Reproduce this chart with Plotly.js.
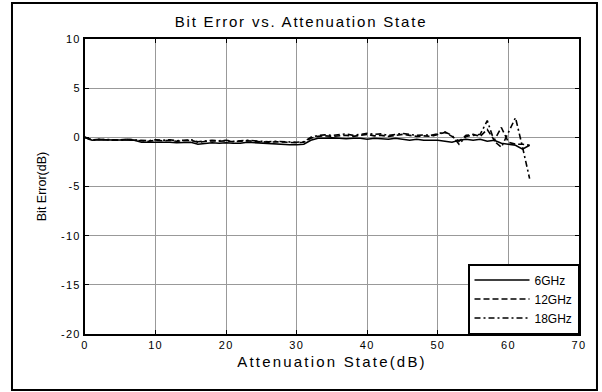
<!DOCTYPE html>
<html>
<head>
<meta charset="utf-8">
<script src="https://cdn.plot.ly/plotly-3.0.1.min.js"></script>
<style>
html,body{margin:0;padding:0;background:#fff;}
#chart{width:602px;height:392px;}
#chart .gtitle{letter-spacing:1.8px;}
#chart .xtitle{letter-spacing:2.2px;}
#chart .xtick text, #chart .ytick text{letter-spacing:1.3px;}
</style>
</head>
<body>
<div id="chart"></div>
<script>
var attenState = [0,1,2,3,4,5,6,7,8,9,10,11,12,13,14,15,16,17,18,19,20,21,22,23,24,25,26,27,28,29,30,31,32,33,34,35,36,37,38,39,40,41,42,43,44,45,46,47,48,49,50,51,52,53,54,55,56,57,58,59,60,61,62,63];

var err6GHz = [0,-0.3,-0.25,-0.25,-0.3,-0.3,-0.25,-0.3,-0.5,-0.5,-0.45,-0.5,-0.5,-0.55,-0.5,-0.5,-0.7,-0.6,-0.55,-0.6,-0.55,-0.6,-0.6,-0.5,-0.55,-0.6,-0.6,-0.65,-0.7,-0.75,-0.75,-0.7,-0.3,-0.1,-0.1,-0.05,-0.1,-0.15,-0.1,-0.1,-0.2,-0.1,-0.15,-0.2,-0.1,-0.2,-0.3,-0.2,-0.3,-0.3,-0.3,-0.4,-0.5,-0.3,-0.2,-0.3,-0.2,-0.4,-0.3,-0.6,-0.7,-0.8,-1.2,-0.8];

var err12GHz = [0,-0.25,-0.2,-0.25,-0.3,-0.25,-0.2,-0.3,-0.35,-0.4,-0.3,-0.35,-0.3,-0.4,-0.35,-0.3,-0.5,-0.45,-0.35,-0.4,-0.35,-0.45,-0.4,-0.35,-0.4,-0.45,-0.5,-0.45,-0.5,-0.55,-0.55,-0.5,-0.1,0.1,0.15,0.1,0.15,0.2,0.1,0.2,0.3,0.15,0.2,0.1,0.2,0.3,0.2,0.1,0.15,0.1,0.3,0.5,0.1,-0.4,0.2,0.3,0.1,0.8,-0.3,1.0,-0.5,-0.7,-0.7,-0.8];

var err18GHz = [0,-0.3,-0.2,-0.2,-0.25,-0.3,-0.2,-0.25,-0.3,-0.35,-0.25,-0.3,-0.25,-0.35,-0.3,-0.25,-0.45,-0.4,-0.3,-0.35,-0.3,-0.4,-0.35,-0.3,-0.35,-0.4,-0.45,-0.4,-0.45,-0.5,-0.5,-0.45,0,0.2,0.25,0.2,0.3,0.35,0.2,0.3,0.4,0.3,0.35,0.2,0.3,0.4,0.3,0.2,0.25,0.2,0.35,0.55,0.2,-0.7,0.1,0.2,0.3,1.7,-0.4,-1.0,0.5,2.0,-1.0,-4.2];

var seriesNames = ['6GHz','12GHz','18GHz'];
var dashStyles = ['solid','6px,3px','6px,3px,2px,3px'];
var seriesData = [err6GHz, err12GHz, err18GHz];

var traces = seriesData.map(function(d,i){
  return {
    x: attenState, y: d, name: seriesNames[i], type: 'scatter', mode: 'lines',
    line: {color: '#000', width: 1.6, dash: dashStyles[i]}
  };
});

var layout = {
  width: 602, height: 392,
  margin: {l: 85, r: 23, t: 39, b: 58},
  paper_bgcolor: '#fff', plot_bgcolor: '#fff',
  font: {family: 'Liberation Sans, Arial, sans-serif', color: '#000', size: 11},
  title: {text: 'Bit Error vs. Attenuation State', font: {size: 15}, x: 0.5, xanchor: 'center', y: 0.945, yanchor: 'middle'},
  showlegend: true,
  legend: {x: 1, xanchor: 'right', y: 0, yanchor: 'bottom', bgcolor: '#fff', bordercolor: '#000', borderwidth: 1.5, font: {size: 12}, itemwidth: 55, tracegroupgap: 0},
  xaxis: {
    range: [0, 70], tickvals: [0,10,20,30,40,50,60,70], ticktext: ['0','10','20','30','40','50','60','70'],
    showgrid: true, gridcolor: '#999', gridwidth: 1, zeroline: false,
    showline: true, linecolor: '#000', linewidth: 2, mirror: 'ticks',
    ticks: 'inside', ticklen: 4, tickcolor: '#000',
    title: {text: 'Attenuation State(dB)', font: {size: 15}, standoff: 6}
  },
  yaxis: {
    range: [-20, 10], tickvals: [-20,-15,-10,-5,0,5,10], ticktext: ['-20','-15','-10','-5','0','5','10'],
    showgrid: true, gridcolor: '#999', gridwidth: 1, zeroline: false,
    showline: true, linecolor: '#000', linewidth: 2, mirror: 'ticks',
    ticks: 'inside', ticklen: 4, tickcolor: '#000',
    title: {text: 'Bit Error(dB)', font: {size: 12.5}, standoff: 16}
  },
  shapes: [{
    type: 'rect', xref: 'paper', yref: 'paper',
    x0: -0.1478, x1: 1.0364, y0: -0.19, y1: 1.122,
    line: {color: '#000', width: 2}, fillcolor: 'rgba(0,0,0,0)'
  }]
};

Plotly.newPlot('chart', traces, layout, {displayModeBar: false, staticPlot: true});
</script>
</body>
</html>
